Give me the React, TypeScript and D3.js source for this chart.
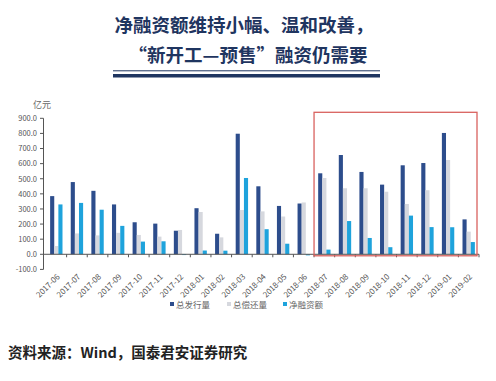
import React from "react";
import * as d3 from "d3";

const categories = ["2017-06","2017-07","2017-08","2017-09","2017-10","2017-11","2017-12","2018-01","2018-02","2018-03","2018-04","2018-05","2018-06","2018-07","2018-08","2018-09","2018-10","2018-11","2018-12","2019-01","2019-02"];
const issue = [385,478,420,330,212,203,156,305,136,798,450,320,336,536,657,545,461,589,604,803,231];
const repay = [55,138,125,142,128,117,161,280,112,293,284,250,343,505,437,437,414,333,424,624,150];
const net = [330,340,295,188,84,86,-5,25,24,505,166,70,-7,31,220,108,47,256,180,179,81];
const yTicks = [-100,0,100,200,300,400,500,600,700,800,900];
const seriesNames = ["总发行量","总偿还量","净融资额"];
const colors = ["#2d4d8c","#d6d8de","#1ea3dc"];
const highlightStart = "2018-07";
const highlightEnd = "2019-02";

export default function App() {
  const W = 496, H = 381;
  const x = d3.scaleBand().domain(categories).range([46, 479]).paddingInner(0).paddingOuter(0);
  const y = d3.scaleLinear().domain([-100, 900]).range([269.4, 118.3]);
  const bw = x.bandwidth();
  const barW = bw * 0.2;
  const groupW = barW * 3;
  const series = [issue, repay, net];
  const hx0 = x(highlightStart)!;
  const hx1 = x(highlightEnd)! + bw;
  return (
    <svg width={W} height={H} style={{ position: "absolute", left: 0, top: 0, background: "#fff" }}
      fontFamily="'Noto Sans CJK SC', 'Noto Sans', sans-serif">
      <rect width={W} height={H} fill="#fff" />
      <text x={244} y={32} textAnchor="middle" fontSize={18.5} fontWeight="bold" fill="#1f3560">净融资额维持小幅、温和改善，</text>
      <text x={248} y={62} textAnchor="middle" fontSize={18.5} fontWeight="bold" fill="#1f3560">“新开工—预售”融资仍需要</text>
      <line x1={113} x2={380} y1={70.8} y2={70.8} stroke="#1f3560" strokeWidth={1} />
      <rect x={113} y={74} width={267} height={3.5} fill="#1f3560" />

      <text x={33} y={108} fontSize={9} fill="#666">亿元</text>
      <line x1={43.5} x2={43.5} y1={y(900)} y2={y(-100)} stroke="#555" strokeWidth={1} />
      {yTicks.map(t => (
        <g key={t}>
          <line x1={40} x2={43.5} y1={y(t)} y2={y(t)} stroke="#555" />
          <text x={37} y={y(t) + 2.8} fontSize={7.5} textAnchor="end" fill="#555">{t.toFixed(1)}</text>
        </g>
      ))}
      {series.map((s, si) => s.map((v, i) => {
        const bx = x(categories[i])! + (bw - groupW) / 2 + si * barW;
        return <rect key={si + "-" + i} x={bx} width={barW}
          y={Math.min(y(v), y(0))} height={Math.abs(y(v) - y(0))} fill={colors[si]} />;
      }))}
      <line x1={43.5} x2={479} y1={y(0)} y2={y(0)} stroke="#555" strokeWidth={1} />
      {categories.map((c, i) => (
        <line key={c} x1={x(c)! + bw} x2={x(c)! + bw} y1={y(0)} y2={y(0) + 3} stroke="#555" />
      ))}
      {categories.map((c) => {
        const cx = x(c)! + bw / 2 + 4;
        const cy = y(0) + 23;
        return <text key={c} x={cx} y={cy} fontSize={8} fill="#555" textAnchor="end"
          transform={`rotate(-45 ${cx} ${cy})`}>{c}</text>;
      })}
      <rect x={hx0} y={112.3} width={hx1 - hx0 - 2} height={y(0) + 1.5 - 112.3} fill="none" stroke="#d9625f" strokeWidth={1.3} />

      {seriesNames.map((n, i) => {
        const lx = [170, 227, 283][i];
        return (
          <g key={n}>
            <rect x={lx} y={302} width={4} height={4} fill={colors[i]} />
            <text x={lx + 6} y={308} fontSize={8.5} fill="#666">{n}</text>
          </g>
        );
      })}
      <text x={8} y={358} fontSize={14.5} fontWeight="bold" fill="#222">资料来源：Wind，国泰君安证券研究</text>
    </svg>
  );
}
